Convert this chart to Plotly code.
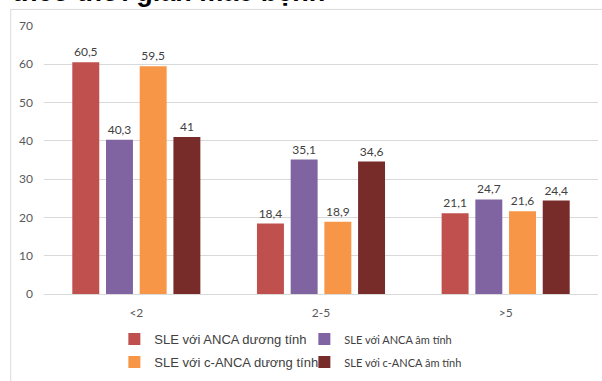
import plotly.graph_objects as go

categories = ["<2", "2-5", ">5"]
series_names = [
    "SLE với ANCA dương tính",
    "SLE với ANCA âm tính",
    "SLE với c-ANCA dương tính",
    "SLE với c-ANCA âm tính",
]
anca_pos = [60.5, 18.4, 21.1]
anca_neg = [40.3, 35.1, 24.7]
canca_pos = [59.5, 18.9, 21.6]
canca_neg = [41, 34.6, 24.4]
colors = ["#c0504d", "#8064a2", "#f79646", "#772c2a"]
y_ticks = [0, 10, 20, 30, 40, 50, 60, 70]
title_text = "theo thời gian mắc bệnh"

values = [anca_pos, anca_neg, canca_pos, canca_neg]
legend_ids = ["legend", "legend", "legend2", "legend2"]

def fmt(v):
    s = ("%g" % v)
    return s.replace(".", ",")

def legend_label(i, name):
    if i % 2 == 1:
        return '<span style="font-family:Lato;font-size:11px">' + name + '</span>'
    return name

fig = go.Figure()
for i, (name, vals) in enumerate(zip(series_names, values)):
    fig.add_trace(go.Bar(
        x=categories, y=vals, name=legend_label(i, name),
        marker=dict(color=colors[i], line=dict(width=0)),
        text=[fmt(v) for v in vals], textposition="outside",
        textfont=dict(family="Lato", size=12, color="#404040"),
        cliponaxis=False, legend=legend_ids[i],
    ))

fig.update_layout(
    width=602, height=381,
    margin=dict(l=43.5, r=3.5, t=26, b=87),
    paper_bgcolor="white", plot_bgcolor="white",
    barmode="group", bargap=0.27, bargroupgap=0.2,
    font=dict(family="Lato", color="#595959"),
    xaxis=dict(showgrid=False, showline=False, ticks="", tickfont=dict(size=12, color="#595959"),
               ticklabelstandoff=10),
    yaxis=dict(range=[0, 70], tickvals=y_ticks, showgrid=True, gridcolor="#d9d9d9", gridwidth=1,
               zeroline=True, zerolinecolor="#d9d9d9", zerolinewidth=1, showline=False,
               tickfont=dict(size=12, color="#595959"), ticklabelstandoff=10),
    legend=dict(orientation="h", x=0.127, xanchor="left", y=-0.168, yanchor="middle",
                entrywidth=145, font=dict(family="Liberation Sans", size=13, color="#404040"),
                bgcolor="rgba(0,0,0,0)", traceorder="normal"),
    legend2=dict(orientation="h", x=0.127, xanchor="left", y=-0.254, yanchor="middle",
                 entrywidth=145, font=dict(family="Liberation Sans", size=13, color="#404040"),
                 bgcolor="rgba(0,0,0,0)", traceorder="normal"),
    showlegend=True,
)

# chart border (partially visible, like the cropped original)
fig.add_shape(type="rect", xref="paper", yref="paper",
              x0=-0.06, x1=1.2, y0=-0.5, y1=1.062,
              line=dict(color="#d9d9d9", width=1), fillcolor="rgba(0,0,0,0)", layer="below")

fig.add_annotation(text="<b>" + title_text + "</b>", xref="paper", yref="paper",
                   x=-0.062, y=1, xanchor="left", yanchor="bottom", yshift=17,
                   showarrow=False, font=dict(family="Liberation Sans", size=27, color="black"))

fig.write_html("out.html")
